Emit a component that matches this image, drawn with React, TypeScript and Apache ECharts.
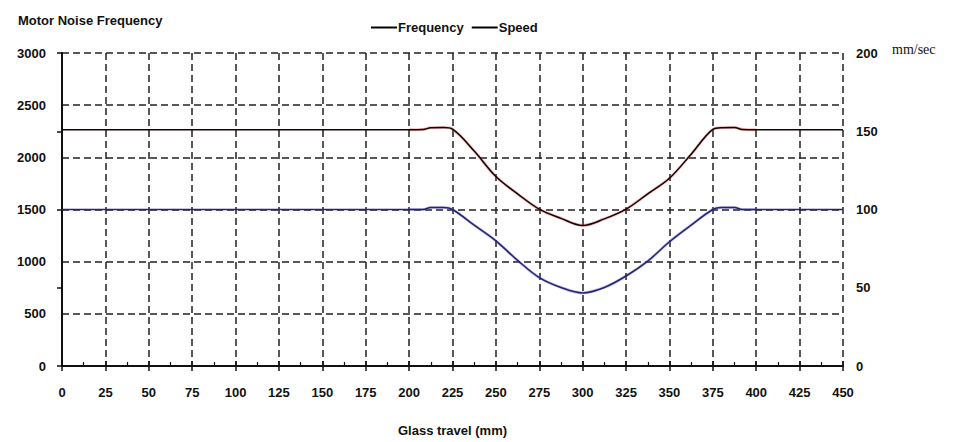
import React, { useEffect, useRef } from "react";
import * as echarts from "echarts";

const travel = [0, 50, 100, 150, 200, 208, 212.5, 220, 225, 237.5, 250, 262.5, 275, 287.5, 300, 312.5, 325, 337.5, 350, 362.5, 375, 380, 387.5, 392, 400, 450];
const frequency = [2265, 2265, 2265, 2265, 2265, 2267, 2284, 2285, 2270, 2060, 1816, 1650, 1503, 1415, 1347, 1410, 1503, 1650, 1800, 2030, 2268, 2284, 2285, 2267, 2265, 2265];
const speed = [100, 100, 100, 100, 100, 100, 101.2, 101.2, 100, 90, 80, 67.5, 56.5, 50.2, 46.7, 50.2, 57.5, 67, 79.4, 90, 100, 101.2, 101.2, 100, 100, 100];
const seriesNames = ["Frequency", "Speed"];

const FONT = "'Liberation Sans', Arial, sans-serif";

export default function App() {
  const ref = useRef<HTMLDivElement>(null);
  useEffect(() => {
    if (!ref.current) return;
    const chart = echarts.init(ref.current, null, { renderer: "svg" });
    const freqPts = travel.map((x, i) => [x, frequency[i]]);
    const speedPts = travel.map((x, i) => [x, speed[i]]);
    const freqCurve = freqPts.filter((p) => p[0] >= 200 && p[0] <= 400);
    const speedCurve = speedPts.filter((p) => p[0] >= 200 && p[0] <= 400);
    const txt = { fontFamily: FONT, fontWeight: "bold" as const, fontSize: 13, color: "#111" };
    const gridDash = { color: "#222", width: 1.5, type: [7, 4] as any };
    const plain = (v: number) => String(v);
    chart.setOption({
      animation: false,
      backgroundColor: "#fff",
      title: {
        text: "Motor Noise Frequency",
        left: 13,
        top: 9,
        textStyle: { ...txt, fontSize: 13 },
      },
      graphic: [
        {
          type: "text",
          left: 892,
          top: 42,
          style: { text: "mm/sec", font: "14px 'Liberation Serif', serif", fill: "#111" },
        },
      ],
      legend: {
        data: [
          { name: "Frequency", itemStyle: { color: "#000" }, lineStyle: { color: "#000" } },
          { name: "Speed", itemStyle: { color: "#000" }, lineStyle: { color: "#000" } },
        ],
        left: 366,
        top: 16,
        itemWidth: 26,
        itemHeight: 2,
        itemGap: 8,
        icon: "rect",
        textStyle: { ...txt, fontSize: 13, padding: [0, 0, 0, -4] },
      },
      grid: { left: 62, right: 133, top: 53, bottom: 69, containLabel: false },
      xAxis: [
        {
          type: "value",
          min: 0,
          max: 450,
          interval: 25,
          name: "Glass travel (mm)",
          nameLocation: "middle",
          nameGap: 58,
          nameTextStyle: { ...txt, fontSize: 13 },
          axisLine: { show: true, lineStyle: { color: "#111", width: 2 } },
          axisTick: { show: true, inside: true, length: 5, lineStyle: { color: "#111", width: 1.5 } },
          minorTick: { show: true, splitNumber: 2, length: 4, lineStyle: { color: "#111", width: 1.2 } },
          axisLabel: { ...txt, margin: 20, formatter: plain },
          splitLine: { show: true, lineStyle: gridDash },
        },
        {
          type: "value",
          min: 0,
          max: 450,
          interval: 25,
          position: "bottom",
          axisLine: { show: false },
          axisTick: { show: true, inside: false, length: 5, lineStyle: { color: "#111", width: 1.5 } },
          axisLabel: { show: false },
          splitLine: { show: false },
        },
      ],
      yAxis: [
        {
          type: "value",
          min: 0,
          max: 3000,
          interval: 500,
          position: "left",
          axisLine: { show: true, lineStyle: { color: "#111", width: 2 } },
          axisTick: { show: false },
          axisLabel: { ...txt, margin: 16, formatter: plain },
          splitLine: { show: true, lineStyle: gridDash },
        },
        {
          type: "value",
          min: 0,
          max: 200,
          interval: 50,
          position: "right",
          axisLine: { show: true, lineStyle: { color: "#111", width: 2 } },
          axisTick: { show: true, inside: true, length: 5, lineStyle: { color: "#111", width: 1.5 } },
          axisLabel: { ...txt, margin: 13, formatter: plain },
          splitLine: { show: false },
        },
      ],
      series: [
        {
          name: "FrequencyGlow",
          type: "line",
          xAxisIndex: 0,
          yAxisIndex: 0,
          data: freqCurve,
          smooth: 0.35,
          showSymbol: false,
          silent: true,
          lineStyle: { color: "rgba(220,60,60,0.35)", width: 3 },
          z: 2,
        },
        {
          name: "SpeedGlow",
          type: "line",
          xAxisIndex: 0,
          yAxisIndex: 1,
          data: speedCurve,
          smooth: 0.35,
          showSymbol: false,
          silent: true,
          lineStyle: { color: "rgba(90,90,210,0.35)", width: 3 },
          z: 2,
        },
        {
          name: seriesNames[0],
          type: "line",
          xAxisIndex: 0,
          yAxisIndex: 0,
          data: freqPts,
          smooth: 0.35,
          showSymbol: false,
          lineStyle: { color: "#120303", width: 1.5 },
          itemStyle: { color: "#000" },
          z: 3,
        },
        {
          name: seriesNames[1],
          type: "line",
          xAxisIndex: 0,
          yAxisIndex: 1,
          data: speedPts,
          smooth: 0.35,
          showSymbol: false,
          lineStyle: { color: "#25256e", width: 1.5 },
          itemStyle: { color: "#000" },
          z: 3,
        },
      ],
    });
    return () => chart.dispose();
  }, []);
  return <div ref={ref} style={{ width: 976, height: 442, position: "absolute", left: 0, top: 0 }} />;
}
